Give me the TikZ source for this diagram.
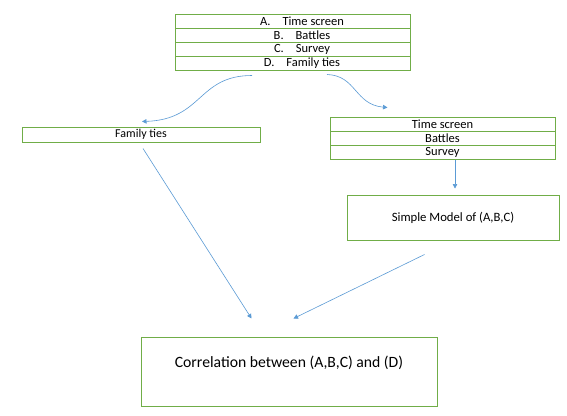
\documentclass[tikz,border=0pt]{standalone}
\usepackage{fontspec}
\setmainfont{Carlito}
\usetikzlibrary{arrows.meta,calc}
\definecolor{boxgreen}{HTML}{70AD47}
\definecolor{arrblue}{HTML}{5B9BD5}
\begin{document}
\begin{tikzpicture}[x=1pt,y=-1pt,
  cell/.style={draw=boxgreen,line width=1pt,inner sep=0pt,font=\fontsize{12.5}{14}\selectfont,text=black},
  conn/.style={draw=arrblue,line width=0.6pt,-{Triangle[width=4.5pt,length=4.5pt]}}]
\useasboundingbox[fill=white] (0,0) rectangle (567,415);
% top table
\node[cell,minimum width=235pt,minimum height=14pt] (A) at (292.5,21) {\hspace*{19pt}A.\hspace{12pt}Time screen};
\node[cell,minimum width=235pt,minimum height=14pt] (B) at (292.5,35) {\hspace*{19pt}B.\hspace{12pt}Battles};
\node[cell,minimum width=235pt,minimum height=14pt] (C) at (292.5,49) {\hspace*{19pt}C.\hspace{12pt}Survey};
\node[cell,minimum width=235pt,minimum height=14pt] (D) at (292.5,63) {\hspace*{19pt}D.\hspace{12pt}Family ties};
% family ties
\node[cell,minimum width=238pt,minimum height=15pt,font=\fontsize{12}{14}\selectfont] (F) at (141,134.5) {Family ties};
% right table
\node[cell,minimum width=225pt,minimum height=14.33pt] (R1) at (442.5,124.2) {Time screen};
\node[cell,minimum width=225pt,minimum height=14.33pt] (R2) at (442.5,138.5) {Battles};
\node[cell,minimum width=225pt,minimum height=14.33pt] (R3) at (442.5,152.8) {Survey};
% simple model
\node[cell,minimum width=212pt,minimum height=45pt,font=\fontsize{12.7}{14}\selectfont] (S) at (453,217.5) {Simple Model of (A,B,C)};
% correlation
\node[cell,minimum width=296pt,text height=30pt,text depth=39pt,inner sep=0pt,font=\fontsize{15.7}{18}\selectfont] (K) at (289,371.5) {Correlation between (A,B,C) and (D)};
% connectors
\draw[conn] ($(D.south)+(-40.5,5)$) .. controls ($(D.south)+(-95,5)$) and ($(F.north)+(62,-7)$) .. ($(F.north)+(1,-5)$);
\draw[conn] ($(D.south)+(34.5,4)$) .. controls ($(D.south)+(64,5)$) and ($(R1.north west)+(25,-12)$) .. ($(R1.north west)+(58,-9)$);
\draw[conn] (R3.south -| 455,0) -- ($(S.north)+(2,-6)$);
\draw[conn] ($(F.south)+(2,6)$) -- ($(K.north west)+(111,-18)$);
\draw[conn] ($(S.south west)+(78,14)$) -- ($(K.north west)+(153,-18)$);
\end{tikzpicture}
\end{document}
